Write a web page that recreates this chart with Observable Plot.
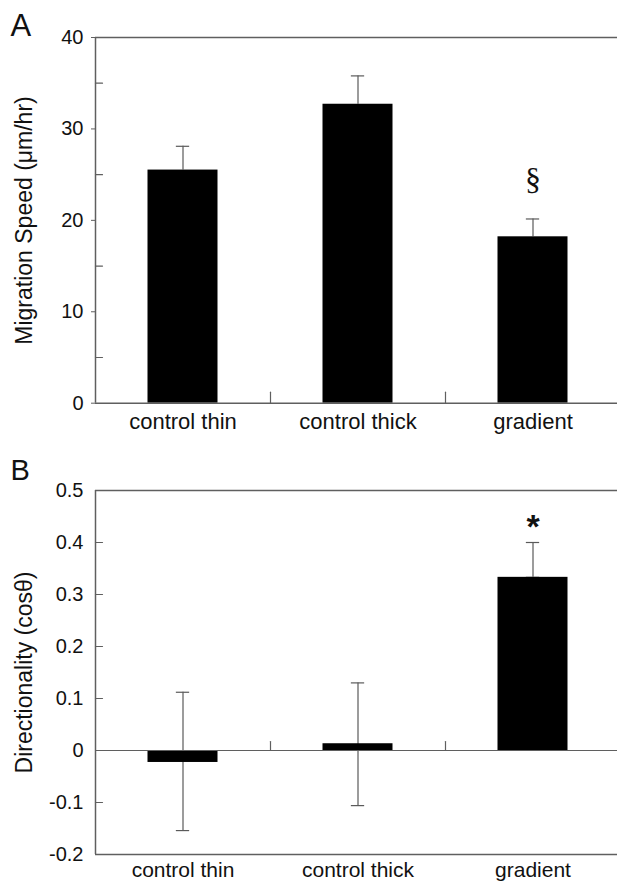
<!DOCTYPE html>
<html>
<head>
<meta charset="utf-8">
<script src="https://cdn.jsdelivr.net/npm/d3@7"></script>
<script src="https://cdn.jsdelivr.net/npm/@observablehq/plot@0.6"></script>
<style>
  html, body { margin: 0; padding: 0; background: #fff; }
  svg { display: block; }
</style>
</head>
<body>
<div id="chart"></div>
<script>
// ---- data ----
const categories = ["control thin", "control thick", "gradient"];

// Panel A: migration speed (µm/hr), mean and upper error
const speedMean = [25.5, 32.7, 18.2];
const speedErrHigh = [28.1, 35.8, 20.15];
const speedTicks = [0, 10, 20, 30, 40];
const speedMinorTicks = [5, 15, 25, 35];

// Panel B: directionality (cos θ), mean and error range
const dirMean = [-0.023, 0.013, 0.333];
const dirErrLow = [-0.154, -0.106, 0.333];
const dirErrHigh = [0.112, 0.130, 0.400];
const dirTicks = [-0.2, -0.1, 0, 0.1, 0.2, 0.3, 0.4, 0.5];

const separators = [0.5, 1.5];

// ---- build tables ----
const dataA = categories.map((c, i) => ({i, c, v: speedMean[i], lo: speedMean[i], hi: speedErrHigh[i]}));
const dataB = categories.map((c, i) => ({i, c, v: dirMean[i], lo: dirErrLow[i], hi: dirErrHigh[i]}));

const axisColor = "#5f5f5f";
const errColor = "#5a5a5a";
const half = 0.2;       // half bar width in category units
const capHalf = 0.038;  // half cap width
const font = "'Liberation Sans', Arial, Helvetica, sans-serif";
const line = {draw(context, l) { context.moveTo(0, 0); context.lineTo(0, -l); }};

const fmtCat = i => categories[i] ?? "";

const plotA = Plot.plot({
  width: 617,
  height: 445,
  marginTop: 37, marginBottom: 42, marginLeft: 95, marginRight: 0,
  style: {fontFamily: font, background: "white", overflow: "visible"},
  x: {domain: [-0.5, 2.5], range: [95, 620]},
  y: {domain: [0, 40], range: [402.7, 37]},
  marks: [
    Plot.ruleX(dataA, {x: "i", y1: "lo", y2: "hi", stroke: errColor, strokeWidth: 1.2}),
    Plot.ruleY(dataA, {y: "hi", x1: d => d.i - capHalf, x2: d => d.i + capHalf, stroke: errColor, strokeWidth: 1.2}),
    Plot.rectY(dataA, {x1: d => d.i - half, x2: d => d.i + half, y1: 0, y2: "v", fill: "black"}),
    Plot.ruleY([0, 40], {stroke: axisColor, strokeWidth: 1.5}),
    Plot.axisY({ticks: speedTicks, tickSize: 4, tickPadding: 8, fontSize: 20, stroke: axisColor, fill: "#111", label: null, tickFormat: d => d}),
    Plot.ruleX([-0.5], {y1: 0, y2: 40, stroke: axisColor, strokeWidth: 1.5}),
    Plot.vector(speedMinorTicks, {y: d => d, frameAnchor: "left", length: 7, rotate: 90, anchor: "start", stroke: axisColor, strokeWidth: 1.2, shape: line}),
    Plot.vector(separators, {x: d => d, y: d => 0, length: 11, rotate: 0, anchor: "start", stroke: axisColor, strokeWidth: 1.2, shape: line}),
    Plot.axisX({ticks: [0, 1, 2], tickFormat: fmtCat, tickSize: 0, tickPadding: 10, fontSize: 22, fill: "#111", label: null}),
    Plot.text(["§"], {x: d => 2, y: d => 24.4, fontFamily: "'Liberation Serif', 'DejaVu Serif', serif", fontSize: 32, fill: "#111", lineAnchor: "middle"}),
    Plot.text(["Migration Speed (μm/hr)"], {frameAnchor: "left", dx: -71, rotate: -90, fontSize: 23, fill: "#111", textAnchor: "middle", lineAnchor: "middle"}),
    Plot.text(["A"], {frameAnchor: "top-left", dx: -85, dy: -2, fontSize: 31, fill: "#111", textAnchor: "start", lineAnchor: "bottom"})
  ]
});

const plotB = Plot.plot({
  width: 617,
  height: 440,
  marginTop: 45, marginBottom: 31, marginLeft: 95, marginRight: 0,
  style: {fontFamily: font, background: "white", overflow: "visible"},
  x: {domain: [-0.5, 2.5], range: [95, 620]},
  y: {domain: [-0.2, 0.5], range: [409, 45]},
  marks: [
    Plot.ruleX(dataB, {x: "i", y1: "lo", y2: "hi", stroke: errColor, strokeWidth: 1.2}),
    Plot.ruleY(dataB, {y: "hi", x1: d => d.i - capHalf, x2: d => d.i + capHalf, stroke: errColor, strokeWidth: 1.2}),
    Plot.ruleY(dataB, {y: "lo", x1: d => d.i - capHalf, x2: d => d.i + capHalf, stroke: errColor, strokeWidth: 1.2}),
    Plot.rectY(dataB, {x1: d => d.i - half, x2: d => d.i + half, y1: 0, y2: "v", fill: "black"}),
    Plot.ruleY([0], {stroke: axisColor, strokeWidth: 1.2}),
    Plot.ruleY([-0.2, 0.5], {stroke: axisColor, strokeWidth: 1.5}),
    Plot.axisY({ticks: dirTicks, tickSize: 0, tickPadding: 12, fontSize: 20, fill: "#111", label: null, tickFormat: d => d === 0 ? "0" : d.toFixed(1)}),
    Plot.ruleX([-0.5], {y1: -0.2, y2: 0.5, stroke: axisColor, strokeWidth: 1.5}),
    Plot.vector(dirTicks.filter(t => t > -0.2 && t < 0.5 && t !== 0), {y: d => d, frameAnchor: "left", length: 7, rotate: 90, anchor: "start", stroke: axisColor, strokeWidth: 1.2, shape: line}),
    Plot.vector(separators, {x: d => d, y: d => 0, length: 9, rotate: 0, anchor: "start", stroke: axisColor, strokeWidth: 1.2, shape: line}),
    Plot.axisX({ticks: [0, 1, 2], tickFormat: fmtCat, tickSize: 0, tickPadding: 8, fontSize: 21, fill: "#111", label: null}),
    Plot.text(["*"], {x: d => 2, y: d => 0.43, fontSize: 34, fontWeight: "bold", fill: "#111", lineAnchor: "middle"}),
    Plot.text(["Directionality (cosθ)"], {frameAnchor: "left", dx: -71, rotate: -90, fontSize: 23, fill: "#111", textAnchor: "middle", lineAnchor: "middle"}),
    Plot.text(["B"], {frameAnchor: "top-left", dx: -85, dy: -11, fontSize: 29, fill: "#111", textAnchor: "start", lineAnchor: "bottom"})
  ]
});

const root = document.getElementById("chart");
root.appendChild(plotA);
root.appendChild(plotB);
</script>
</body>
</html>
